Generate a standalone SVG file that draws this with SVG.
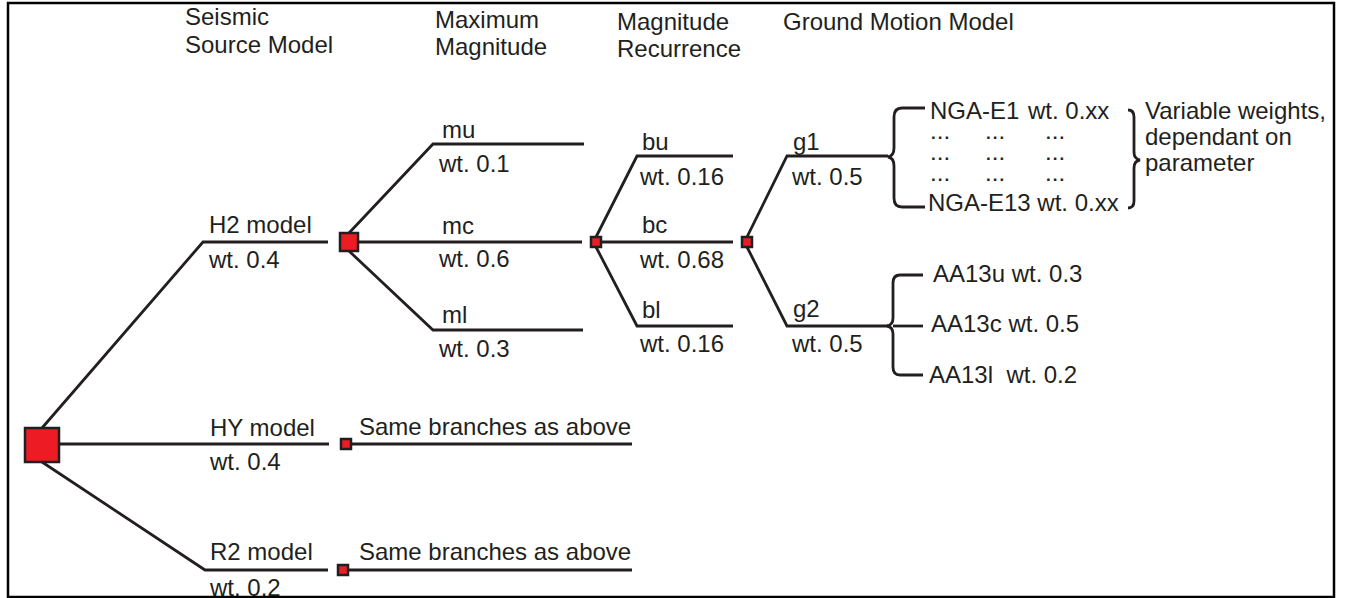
<svg xmlns="http://www.w3.org/2000/svg" width="1348" height="598" viewBox="0 0 1348 598">
<style>
.t{font-family:"Liberation Sans",Arial,sans-serif;font-size:24px;fill:#231f20;white-space:pre}
.d{font-family:"Liberation Sans",Arial,sans-serif;font-size:17px;letter-spacing:2px;fill:#231f20;font-weight:bold}
.ln{fill:none;stroke:#231f20;stroke-width:2.8;stroke-linejoin:miter}
.sq{fill:#ed1c24;stroke:#231f20;stroke-width:2.5}
</style>
<rect x="0" y="0" width="1348" height="598" fill="#fff"/>
<g id="headers">
<text class="t" x="185" y="25">Seismic</text>
<text class="t" x="185" y="53">Source Model</text>
<text class="t" x="435" y="28">Maximum</text>
<text class="t" x="435" y="55">Magnitude</text>
<text class="t" x="617" y="30">Magnitude</text>
<text class="t" x="617" y="57">Recurrence</text>
<text class="t" x="783" y="30">Ground Motion Model</text>
</g>
<g id="connectors">
<path class="ln" d="M42 428 L203 242 L328 242"/>
<path class="ln" d="M59 444 L329 444"/>
<path class="ln" d="M42 462 L205 570 L328 570"/>
<path class="ln" d="M349 233 L433 144 L584 144"/>
<path class="ln" d="M358 242 L582 242"/>
<path class="ln" d="M349 251 L433 330 L583 330"/>
<path class="ln" d="M352 444 L632 444"/>
<path class="ln" d="M349 570 L632 570"/>
<path class="ln" d="M596 237 L637 156 L733 156"/>
<path class="ln" d="M601 242 L733 242"/>
<path class="ln" d="M596 247 L637 326 L733 326"/>
<path class="ln" d="M747 237 L787 156 L888 156"/>
<path class="ln" d="M747 247 L787 326 L888 326"/>
<path class="ln" d="M925 108 L902 108 Q894 108 894 117 L894 148 Q894 156 888 157 Q894 158 894 166 L894 198 Q894 207 902 207 L925 207"/>
<path class="ln" d="M923 275 L900 275 Q893 275 893 283 L893 318 Q893 325 887 326 Q893 327 893 334 L893 367 Q893 375 900 375 L923 375"/>
<path class="ln" d="M893 326 L923 326"/>
<path class="ln" d="M1128 110 Q1134 110 1134 117 L1134 152 Q1134 159 1140 160 Q1134 161 1134 168 L1134 201 Q1134 208 1128 208"/>
</g>
<g id="node-root"><rect class="sq" x="25" y="428" width="34" height="34"/></g>
<g id="node-h2">
<text class="t" x="209" y="233">H2 model</text>
<text class="t" x="209" y="268">wt. 0.4</text>
<rect class="sq" x="340" y="233" width="18" height="18"/>
</g>
<g id="node-hy">
<text class="t" x="210" y="436">HY model</text>
<text class="t" x="210" y="470">wt. 0.4</text>
<rect class="sq" x="341" y="439" width="10" height="10" stroke-width="2"/>
<text class="t" x="359" y="435">Same branches as above</text>
</g>
<g id="node-r2">
<text class="t" x="210" y="560">R2 model</text>
<text class="t" x="210" y="596">wt. 0.2</text>
<rect class="sq" x="338" y="565" width="10" height="10" stroke-width="2"/>
<text class="t" x="359" y="560">Same branches as above</text>
</g>
<g id="node-mu"><text class="t" x="442" y="138">mu</text><text class="t" x="439" y="172">wt. 0.1</text></g>
<g id="node-mc">
<text class="t" x="442" y="234">mc</text><text class="t" x="439" y="267">wt. 0.6</text>
<rect class="sq" x="591" y="237" width="10" height="10" stroke-width="2"/>
</g>
<g id="node-ml"><text class="t" x="442" y="323">ml</text><text class="t" x="439" y="357">wt. 0.3</text></g>
<g id="node-bu"><text class="t" x="642" y="150">bu</text><text class="t" x="640" y="185">wt. 0.16</text></g>
<g id="node-bc">
<text class="t" x="642" y="233">bc</text><text class="t" x="640" y="268">wt. 0.68</text>
<rect class="sq" x="742" y="237" width="10" height="10" stroke-width="2"/>
</g>
<g id="node-bl"><text class="t" x="642" y="318">bl</text><text class="t" x="640" y="352">wt. 0.16</text></g>
<g id="node-g1"><text class="t" x="793" y="150">g1</text><text class="t" x="792" y="185">wt. 0.5</text></g>
<g id="node-g2"><text class="t" x="793" y="317">g2</text><text class="t" x="792" y="352">wt. 0.5</text></g>
<g id="node-nga">
<text class="t" x="930" y="119">NGA-E1<tspan x="1028">wt. 0.xx</tspan></text>
<text class="d" x="931" y="139">...<tspan x="986">...</tspan><tspan x="1046">...</tspan></text>
<text class="d" x="931" y="160">...<tspan x="986">...</tspan><tspan x="1046">...</tspan></text>
<text class="d" x="931" y="181">...<tspan x="986">...</tspan><tspan x="1046">...</tspan></text>
<text class="t" x="928" y="211">NGA-E13 wt. 0.xx</text>
<text class="t" x="1145" y="119">Variable weights,</text>
<text class="t" x="1145" y="145">dependant on</text>
<text class="t" x="1145" y="171">parameter</text>
</g>
<g id="node-aa">
<text class="t" x="933" y="282">AA13u wt. 0.3</text>
<text class="t" x="931" y="332">AA13c wt. 0.5</text>
<text class="t" x="929" y="383">AA13l  wt. 0.2</text>
</g>
<rect id="frame" x="8" y="3" width="1326" height="594" fill="none" stroke="#000" stroke-width="2.5"/>
</svg>
